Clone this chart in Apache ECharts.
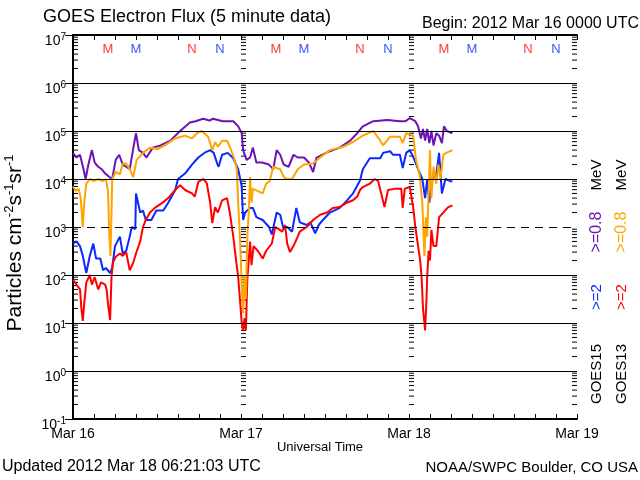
<!DOCTYPE html>
<html><head><meta charset="utf-8">
<script src="https://cdn.jsdelivr.net/npm/echarts@6/dist/echarts.min.js"></script>
<style>html,body{margin:0;padding:0;background:#fff}#c{width:640px;height:480px}</style>
</head><body><div id="c"></div>
<script>
// ---- data (hours since 2012 Mar 16 00:00 UTC, flux in particles cm^-2 s^-1 sr^-1) ----
const dayLabels = ['Mar 16', 'Mar 17', 'Mar 18', 'Mar 19'];

const g15e08T = [0,0.5,1.0,1.5,1.8,2.2,2.7,3.1,3.6,4.1,4.6,5.2,5.6,6.1,6.6,7.1,7.6,8.1,8.5,9.0,9.4,10.0,10.5,11.4,12.5,13.9,15.3,16.7,17.5,18.6,19.5,20.0,21.4,22.9,23.6,24.1,24.3,24.8,25.3,25.7,26.2,27.0,28.0,28.6,29.1,29.6,30.1,30.8,31.5,32.1,33.0,33.7,34.3,34.8,36.3,38.1,39.6,40.6,41.4,42.9,44.9,46.7,47.5,48.1,48.9,49.3,49.7,50.0,50.3,50.6,50.9,51.2,51.5,51.9,52.3,52.7,53.0,53.4,54.2];
const g15e08V = [3.5e4,2.8e4,3.2e4,1.6e4,1.0e4,2e4,4e4,2.2e4,1.8e4,1.6e4,1.3e4,1.1e4,1.0e4,2.5e4,3.2e4,2e4,1.8e4,1.6e4,3.5e4,9e4,4e4,3.5e4,2.8e4,4.5e4,5e4,6.3e4,1e5,1.5e5,1.6e5,1.8e5,1.65e5,1.8e5,1.6e5,1.6e5,1.25e5,9e4,4e4,2.5e4,2.8e4,4.5e4,2.2e4,2.2e4,2e4,1.6e4,4e4,3.2e4,2e4,1.8e4,3.2e4,2.8e4,2.8e4,2.2e4,1.4e4,2.8e4,3.6e4,4.5e4,6.3e4,9e4,1.25e5,1.6e5,1.7e5,1.6e5,1.6e5,1.85e5,1.6e5,1.25e5,7e4,1.1e5,6.3e4,1.1e5,5.6e4,1e5,5e4,9e4,8e4,5.6e4,1.25e5,1e5,9e4];

const g13e08T = [0,0.4,0.8,1.1,1.4,1.6,1.9,2.4,3.0,3.6,4.2,4.7,5.0,5.2,5.35,5.5,5.6,6.1,6.7,7.1,7.6,8.1,8.6,9.1,10.0,11.0,12.1,13.1,14.6,16.0,17.0,17.7,18.4,19.3,19.9,20.3,20.7,21.3,22.0,22.4,23.1,23.4,23.6,23.9,24.1,24.3,24.5,24.7,24.9,25.1,25.3,25.5,25.7,26.4,27.1,27.6,28.1,28.6,29.6,30.1,30.6,31.3,32.1,33.0,34.3,35.3,36.7,38.6,40.0,41.4,42.9,43.9,44.3,45.3,46.7,47.1,47.6,48.6,49.0,49.5,49.9,50.2,50.4,50.6,51.0,51.2,51.5,51.9,52.2,52.5,52.9,53.3,53.9,54.2];
const g13e08V = [7e3,5.6e3,6.3e3,4e3,1e3,3.2e3,8e3,1e4,9e3,1e4,9e3,1e4,5.6e3,630,250,2e3,1e4,1.4e4,1.25e4,2.1e4,2.1e4,1.6e4,1.1e4,2.5e4,3.5e4,4.5e4,4.2e4,5e4,7e4,8e4,7e4,9e4,1e5,7.6e4,4e4,5.9e4,4.7e4,6.3e4,6.3e4,4.7e4,2.5e4,1.6e4,3.2e3,400,63,16,100,32,630,2e3,1.1e4,3.2e3,6.3e3,5.6e3,5e3,8e3,9e3,1.8e4,1.6e4,1.1e4,1e4,1e4,1.6e4,2e4,2.1e4,2.8e4,4e4,4.7e4,5.9e4,8e4,1e5,6.3e4,5e4,7.6e4,7.6e4,5.6e4,9e4,8e4,2.5e4,1.25e4,3.2e3,250,1.6e3,630,4e4,4e3,1.8e4,8e3,2e4,1e4,3.2e4,3.5e4,3.8e4,4e4];

const g15e2T = [0,0.5,1.0,1.4,1.9,2.4,2.9,3.3,3.9,4.3,4.7,5.3,5.6,6.0,6.7,7.1,7.6,8.1,8.4,8.9,9.0,9.6,10.0,10.4,11.2,11.9,12.9,13.6,14.6,15.0,16.0,17.0,17.9,18.9,19.6,20.1,20.6,20.8,21.3,22.1,22.9,23.6,24.1,24.3,24.6,25.3,25.7,26.2,27.1,28.0,28.4,29.1,29.6,30.0,30.6,31.3,31.9,32.4,33.4,33.9,34.6,35.1,35.7,36.7,38.1,39.1,40.0,41.0,41.4,42.4,43.9,44.3,45.3,45.7,46.7,47.1,47.6,48.1,48.6,49.3,49.9,50.3,50.6,50.9,51.3,51.9,52.3,52.7,53.2,53.9,54.2];
const g15e2V = [450,500,400,250,110,250,450,220,220,125,140,110,140,400,630,280,320,630,1e3,900,5e3,2e3,2.2e3,1.4e3,1.4e3,2.2e3,2.2e3,3.2e3,5.9e3,1e4,1.3e4,2e4,2.8e4,3.6e4,4e4,3.5e4,2.1e4,1.8e4,3.2e4,3.5e4,2.7e4,1.6e4,7e3,1.4e3,2e3,2.5e3,2.5e3,1.6e3,1.4e3,1e3,700,2e3,1.8e3,1e3,1e3,800,2.5e3,1.25e3,1.1e3,1.25e3,740,1.1e3,1.4e3,2e3,2.5e3,3.5e3,5e3,9.3e3,1.6e4,2.7e4,2.7e4,3.5e4,3.8e4,3.2e4,3.2e4,1.7e4,3.5e4,4e4,2.9e4,1.6e4,1e4,4e3,1e4,3.2e3,1e4,1.25e4,3.5e4,5e3,1e4,9e3,9e3];

const g13e2T = [0,0.5,1.0,1.2,1.4,1.6,1.9,2.4,2.7,3.1,3.6,4.0,4.6,4.8,5.0,5.3,5.5,5.7,6.1,6.7,7.1,7.6,8.1,8.6,9.0,9.6,10.0,10.4,11.0,11.7,12.9,13.6,14.6,15.3,16.0,17.0,17.4,17.9,18.6,19.1,19.6,19.9,20.3,20.7,21.3,22.0,22.4,22.9,23.3,23.6,23.9,24.1,24.3,24.5,24.7,24.9,25.3,25.5,25.8,26.4,27.1,27.6,28.4,28.9,29.4,29.9,30.3,30.6,31.0,31.5,32.1,32.4,33.4,34.3,35.3,36.3,37.1,38.1,39.1,40.0,40.6,41.0,41.4,42.4,43.1,43.6,44.5,45.0,46.1,46.9,47.1,47.4,48.1,48.6,48.9,49.3,49.6,49.8,50.0,50.3,50.5,50.6,50.8,51.0,51.2,51.5,51.9,52.3,52.9,53.6,54.2];
const g13e2V = [80,63,50,20,11,25,70,100,63,90,50,70,63,50,25,11.5,90,180,240,280,250,300,125,180,280,500,1e3,1.4e3,2e3,2.5e3,3.3e3,4e3,5.9e3,7.4e3,5.9e3,5e3,4.3e3,8.7e3,1e4,8.3e3,3.2e3,1.2e3,2.6e3,2e3,3.6e3,4e3,2e3,630,200,90,25,10,7,12.6,7,80,500,160,400,320,220,320,450,1e3,900,800,1.1e3,450,300,400,630,800,1e3,1.4e3,1.8e3,2e3,2.5e3,2.6e3,3.2e3,3.6e3,4.3e3,5.9e3,6.8e3,8e3,1e4,9e3,2.6e3,5.9e3,6.3e3,6.3e3,2.5e3,6.3e3,6.8e3,2.6e3,1e3,400,200,90,20,7,32,90,320,200,870,400,400,1.6e3,2e3,2.6e3,2.8e3];

// local midnight (M) / noon (N) markers, hours
const markHours = [5,9,17,21,29,33,41,45,53,57,65,69];
const markText  = ['M','M','N','N','M','M','N','N','M','M','N','N'];
const markSat   = ['g13','g15','g13','g15','g13','g15','g13','g15','g13','g15','g13','g15'];

// y axis decades
const gridSolid = [1, 10, 100, 1e4, 1e5, 1e6];
const gridDashed = [1e3];
const minorVals = [];
for (let k = -1; k < 7; k++) for (let m = 2; m <= 9; m++) minorVals.push(m * Math.pow(10, k));

const C = { g15e08: '#6a14b4', g13e08: '#ffa500', g15e2: '#0a28ff', g13e2: '#ff0000' };
const F = 'Liberation Sans';
const pair = (t, v) => t.map((h, i) => [h, v[i]]);

const chart = echarts.init(document.getElementById('c'), null, { renderer: 'canvas' });
const supRich = { b: { fontSize: 14, fontFamily: F, color: '#000', lineHeight: 16, verticalAlign: 'bottom' },
                  e: { fontSize: 10, fontFamily: F, color: '#000', lineHeight: 16, verticalAlign: 'top' } };

function lineSeries(name, t, v, color) {
  return { name, type: 'line', data: pair(t, v), showSymbol: false, symbol: 'none',
           lineStyle: { color, width: 2 }, itemStyle: { color }, z: 3, animation: false, clip: true };
}

const option = {
  animation: false,
  backgroundColor: '#fff',
  grid: { left: 73, top: 35, width: 504, height: 384, containLabel: false },
  xAxis: [
    { type: 'value', min: 0, max: 72, interval: 3, position: 'bottom',
      axisLine: { lineStyle: { color: '#000', width: 2 } },
      axisTick: { inside: true, length: 5, lineStyle: { color: '#000', width: 1 } },
      axisLabel: { color: '#000', fontFamily: F, fontSize: 14, margin: 8, showMinLabel: true, showMaxLabel: true,
                   formatter: v => (v % 24 === 0 ? dayLabels[v / 24] : '') },
      splitLine: { show: false } },
    { type: 'value', min: 0, max: 72, interval: 3, position: 'top',
      axisLine: { lineStyle: { color: '#000', width: 2 } },
      axisTick: { inside: true, length: 5, lineStyle: { color: '#000', width: 1 } },
      axisLabel: { show: false }, splitLine: { show: false } }
  ],
  yAxis: [
    { type: 'log', logBase: 10, min: 0.1, max: 1e7, splitNumber: 8, position: 'left',
      axisLine: { show: true, lineStyle: { color: '#000', width: 2 } },
      axisTick: { inside: true, length: 8, lineStyle: { color: '#000' } },
      axisLabel: { margin: 7, verticalAlign: 'top', padding: [-3, 0, 0, 0],
                   formatter: v => '{b|10}{e|' + Math.round(Math.log10(v)) + '}', rich: supRich },
      splitLine: { show: false } },
    { type: 'log', logBase: 10, min: 0.1, max: 1e7, splitNumber: 8, position: 'right',
      axisLine: { show: true, lineStyle: { color: '#000', width: 2 } },
      axisTick: { inside: true, length: 8, lineStyle: { color: '#000' } },
      axisLabel: { show: false }, splitLine: { show: false } }
  ],
  series: [
    { type: 'custom', name: 'ticks', z: 1, silent: true, clip: false,
      data: minorVals.map(v => [0, v]),
      renderItem: (params, api) => {
        const v = api.value(1);
        const els = [];
        [0, 24, 48].forEach(h => {
          const p = api.coord([h, v]);
          els.push({ type: 'line', shape: { x1: p[0], y1: p[1], x2: p[0] + 5, y2: p[1] }, style: { stroke: '#000', lineWidth: 1 } });
        });
        const q = api.coord([72, v]);
        els.push({ type: 'line', shape: { x1: q[0] - 5, y1: q[1], x2: q[0], y2: q[1] }, style: { stroke: '#000', lineWidth: 1 } });
        return { type: 'group', children: els };
      },
      markLine: { silent: true, symbol: 'none', label: { show: false }, animation: false,
        data: gridSolid.map(v => ({ yAxis: v, lineStyle: { color: '#000', width: 1, type: 'solid' } }))
          .concat(gridDashed.map(v => ({ yAxis: v, lineStyle: { color: '#000', width: 1, type: [8, 6] } }))) } },
    lineSeries('GOES15 >=0.8 MeV', g15e08T, g15e08V, C.g15e08),
    lineSeries('GOES15 >=2 MeV', g15e2T, g15e2V, C.g15e2),
    lineSeries('GOES13 >=2 MeV', g13e2T, g13e2V, C.g13e2),
    lineSeries('GOES13 >=0.8 MeV', g13e08T, g13e08V, C.g13e08),
    { type: 'scatter', name: 'marks', symbolSize: 1, itemStyle: { color: 'rgba(0,0,0,0)' }, silent: true, z: 4,
      data: markHours.map((h, i) => ({ value: [h, 5.0e6], name: markText[i],
        label: { color: markSat[i] === 'g13' ? '#ff0000' : '#0a28ff' } })),
      label: { show: true, position: 'inside', formatter: p => p.name, fontFamily: F, fontSize: 13 } }
  ],
  graphic: [
    { type: 'text', left: 43, top: 8, style: { text: 'GOES Electron Flux (5 minute data)', font: '18px "' + F + '"', fill: '#000' } },
    { type: 'text', right: 1, top: 16, style: { text: 'Begin: 2012 Mar 16 0000 UTC', font: '16px "' + F + '"', fill: '#000' } },
    { type: 'text', left: 2, top: 459, style: { text: 'Updated 2012 Mar 18 06:21:03 UTC', font: '16px "' + F + '"', fill: '#000' } },
    { type: 'text', right: 2, top: 460, style: { text: 'NOAA/SWPC Boulder, CO USA', font: '15px "' + F + '"', fill: '#000' } },
    { type: 'text', x: 320, y: 447, style: { text: 'Universal Time', font: '13px "' + F + '"', fill: '#000', textAlign: 'center', textVerticalAlign: 'middle' } },
    { type: 'text', x: 15, y: 243, rotation: Math.PI / 2,
      style: { text: 'Particles cm{s|-2}s{s|-1}sr{s|-1}', font: '21px "' + F + '"', fill: '#000', align: 'center', verticalAlign: 'middle',
               rich: { s: { fontSize: 13, fontFamily: F, fill: '#000', verticalAlign: 'top', lineHeight: 24 } } } },
    { type: 'text', x: 597, y: 374, rotation: Math.PI / 2, style: { text: 'GOES15', font: '15px "' + F + '"', fill: '#000', align: 'center', verticalAlign: 'middle' } },
    { type: 'text', x: 597, y: 297, rotation: Math.PI / 2, style: { text: '>=2', font: '15px "' + F + '"', fill: C.g15e2, align: 'center', verticalAlign: 'middle' } },
    { type: 'text', x: 597, y: 232, rotation: Math.PI / 2, style: { text: '>=0.8', font: '16px "' + F + '"', fill: C.g15e08, align: 'center', verticalAlign: 'middle' } },
    { type: 'text', x: 597, y: 175, rotation: Math.PI / 2, style: { text: 'MeV', font: '15px "' + F + '"', fill: '#000', align: 'center', verticalAlign: 'middle' } },
    { type: 'text', x: 622, y: 374, rotation: Math.PI / 2, style: { text: 'GOES13', font: '15px "' + F + '"', fill: '#000', align: 'center', verticalAlign: 'middle' } },
    { type: 'text', x: 622, y: 297, rotation: Math.PI / 2, style: { text: '>=2', font: '15px "' + F + '"', fill: C.g13e2, align: 'center', verticalAlign: 'middle' } },
    { type: 'text', x: 622, y: 232, rotation: Math.PI / 2, style: { text: '>=0.8', font: '16px "' + F + '"', fill: C.g13e08, align: 'center', verticalAlign: 'middle' } },
    { type: 'text', x: 622, y: 175, rotation: Math.PI / 2, style: { text: 'MeV', font: '15px "' + F + '"', fill: '#000', align: 'center', verticalAlign: 'middle' } }
  ]
};
chart.setOption(option);
</script></body></html>
